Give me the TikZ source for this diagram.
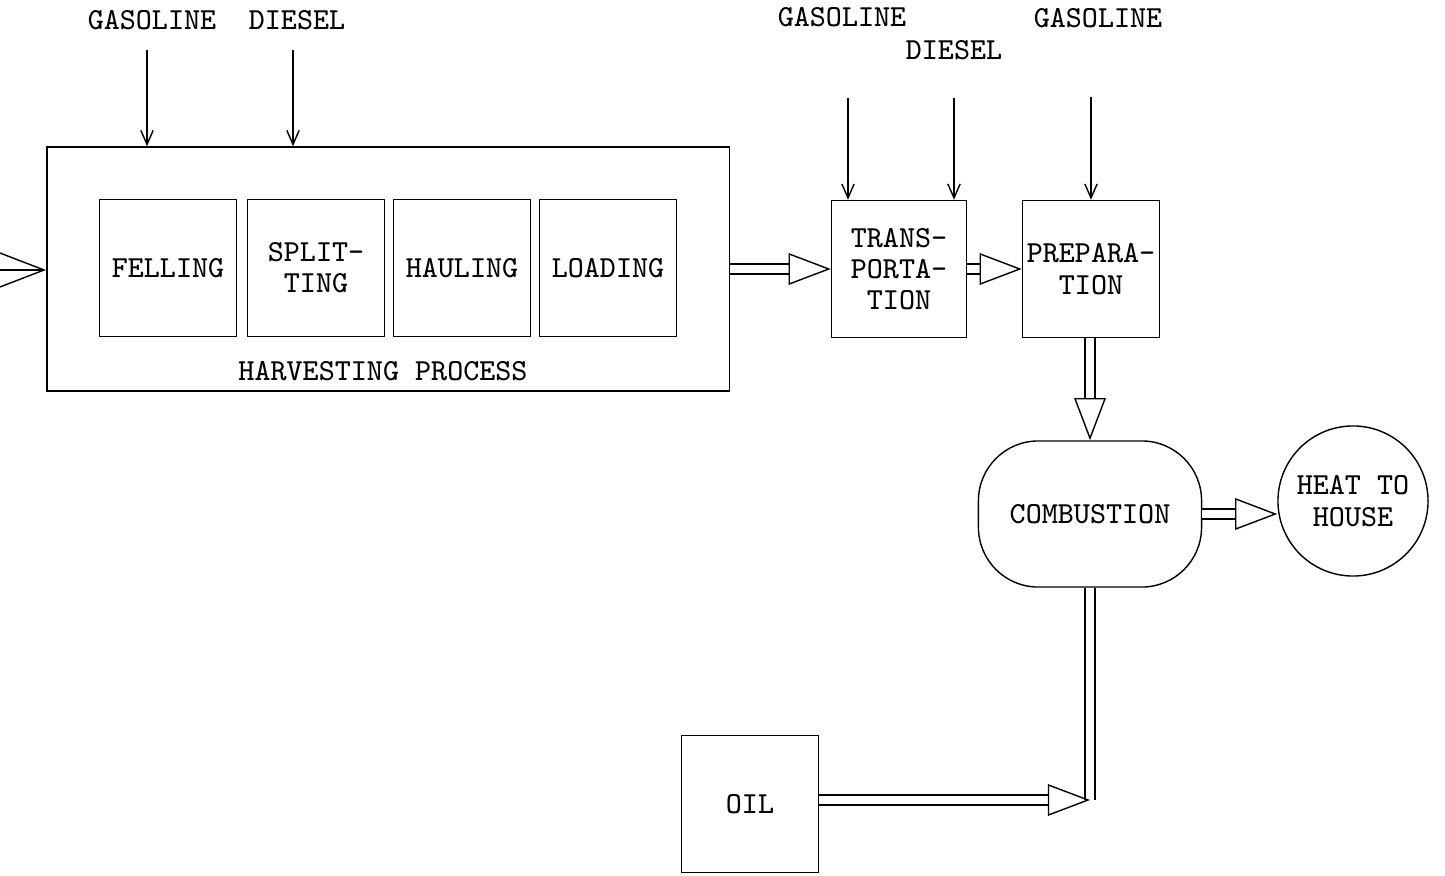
\documentclass[tikz,border=0pt]{standalone}
\usepackage{fontspec}
\usetikzlibrary{arrows.meta,positioning,shapes.geometric}

\begin{document}
\begin{tikzpicture}[x=0.01cm,y=-0.01cm,
   txt/.style={font=\ttfamily\fontsize{8.7}{8.9}\selectfont,align=center,inner sep=0pt},
   bx/.style={draw,txt,minimum width=1.37cm,minimum height=1.37cm},
   feed/.style={-{Straight Barb[length=4pt,width=3.5pt]}},
   flow/.style={double,double distance=2.5pt,-{Triangle[open,length=12pt,width=9pt]}}]
  \useasboundingbox (0,0) rectangle (1445,876);
  % harvesting
  \node[draw,minimum width=6.82cm,minimum height=2.44cm] (harv) at (388,269) {};
  \node[txt] (hlab) at (383,371) {HARVESTING PROCESS};
  \node[bx] (fell) at (168,268) {FELLING};
  \node[bx] (split) at (316,268) {SPLIT-\\TING};
  \node[bx] (haul) at (462,268) {HAULING};
  \node[bx] (load) at (608,268) {LOADING};
  \node[txt] (gas1) at (152,20) {GASOLINE};
  \node[txt] (dies1) at (297,20) {DIESEL};
  \coordinate (g1) at (147,50);
  \coordinate (d1) at (293,50);
  \draw[feed] (g1) -- (g1 |- harv.north);
  \draw[feed] (d1) -- (d1 |- harv.north);
  \coordinate (src) at (0,270);
  \draw[-{Straight Barb[length=13pt,width=10pt]}] (src) -- (harv.west |- src);
  % transport and preparation
  \node[bx,minimum width=1.35cm] (trans) at (899,269) {TRANS-\\PORTA-\\TION};
  \node[bx] (prep) at (1091,269) {PREPARA-\\TION};
  \node[txt] (gas2) at (842,17) {GASOLINE};
  \node[txt] (dies2) at (954,50) {DIESEL};
  \node[txt] (gas3) at (1098,18) {GASOLINE};
  \coordinate (g2) at (848,98);
  \coordinate (d2) at (954,98);
  \coordinate (g3) at (1091,97);
  \draw[feed] (g2) -- (g2 |- trans.north);
  \draw[feed] (d2) -- (d2 |- trans.north);
  \draw[feed] (g3) -- (g3 |- prep.north);
  \draw[flow] (harv) -- (trans);
  \draw[flow] (trans) -- (prep);
  % combustion
  \node[draw,txt,rounded corners=17pt,minimum width=2.23cm,minimum height=1.46cm] (comb) at (1090,514) {COMBUSTION};
  \node[draw,txt,circle,minimum size=1.5cm] (heat) at (1353,501) {HEAT TO\\HOUSE};
  \draw[flow] (prep.south -| comb) -- (comb);
  \draw[flow] (comb.east) -- (comb.east -| heat.west);
  % oil
  \node[bx] (oil) at (750,804) {OIL};
  \coordinate (join) at (1090,800);
  \draw[double,double distance=2.5pt] (comb.south) -- (join);
  \draw[flow] (oil.east |- join) -- (join);
\end{tikzpicture}
\end{document}
